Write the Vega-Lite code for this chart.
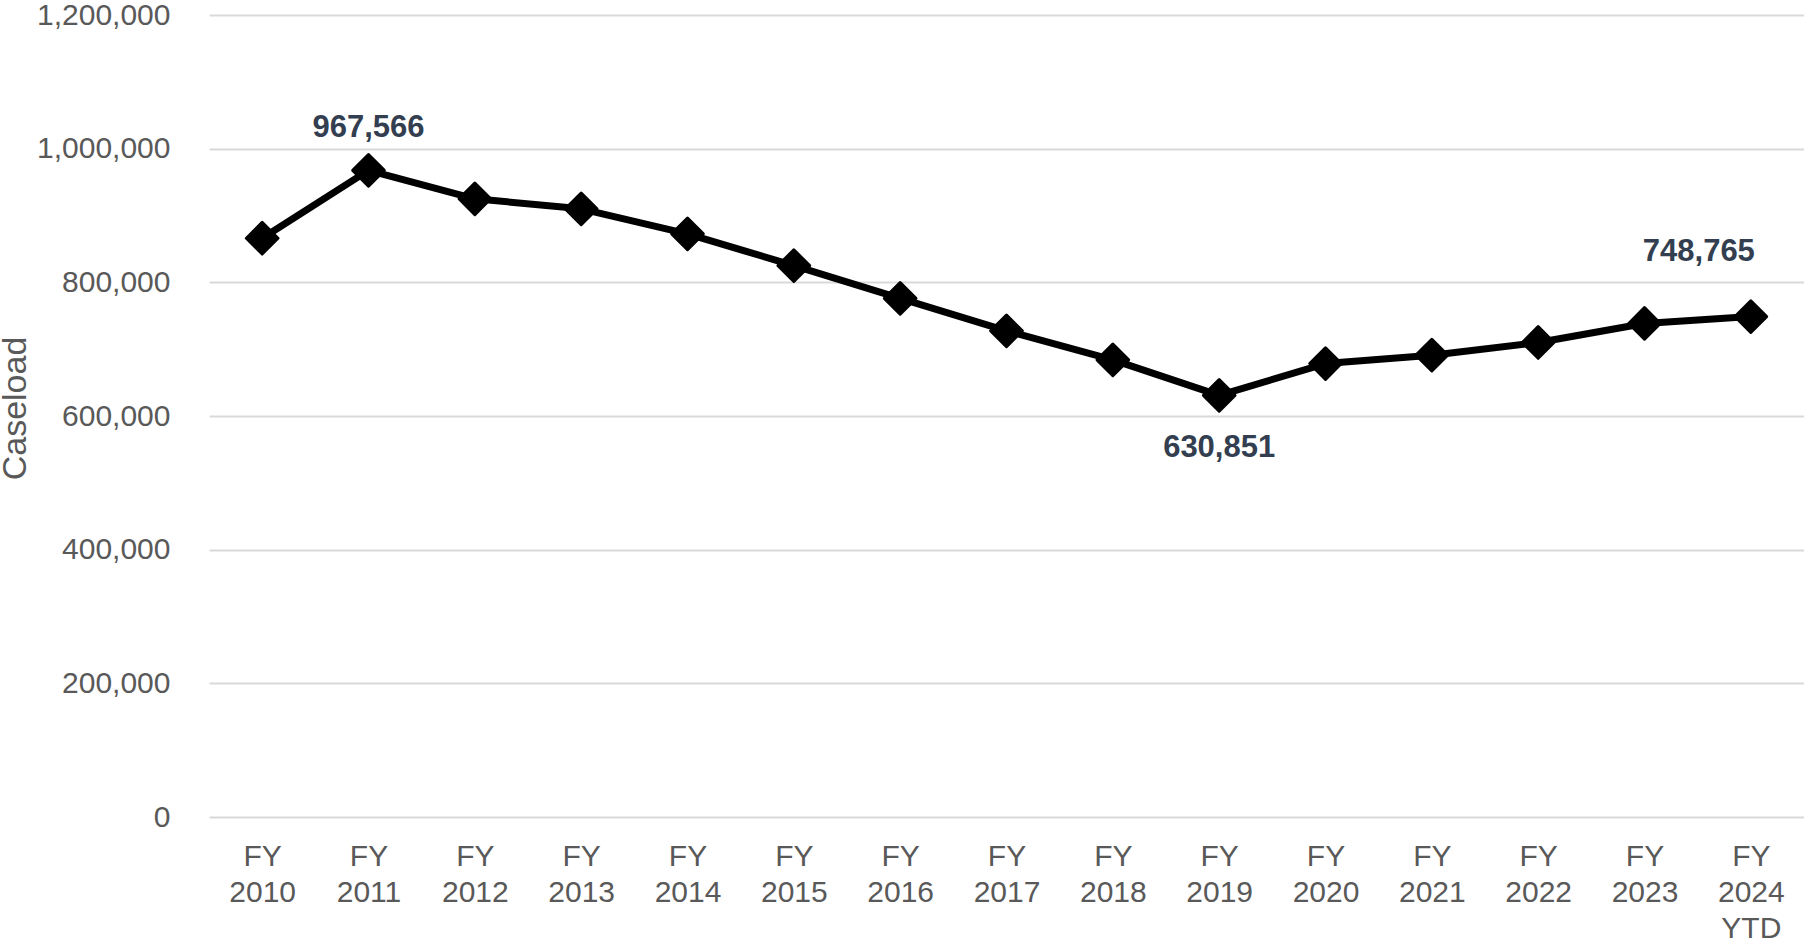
{
  "$schema": "https://vega.github.io/schema/vega-lite/v6.json",
  "autosize": {"type": "none"},
  "width": 1595,
  "height": 802,
  "padding": {"left": 209, "top": 15, "right": 0, "bottom": 128},
  "background": "white",
  "config": {"view": {"stroke": null}, "font": "Liberation Sans"},
  "data": {"values": [
    {"Year": "FY 2010", "Caseload": 866000},
    {"Year": "FY 2011", "Caseload": 967566},
    {"Year": "FY 2012", "Caseload": 925000},
    {"Year": "FY 2013", "Caseload": 910000},
    {"Year": "FY 2014", "Caseload": 872500},
    {"Year": "FY 2015", "Caseload": 825000},
    {"Year": "FY 2016", "Caseload": 776000},
    {"Year": "FY 2017", "Caseload": 727400},
    {"Year": "FY 2018", "Caseload": 684000},
    {"Year": "FY 2019", "Caseload": 630851},
    {"Year": "FY 2020", "Caseload": 678500},
    {"Year": "FY 2021", "Caseload": 691000},
    {"Year": "FY 2022", "Caseload": 710000},
    {"Year": "FY 2023", "Caseload": 738500},
    {"Year": "FY 2024 YTD", "Caseload": 748765}
  ]},
  "encoding": {
    "x": {
      "field": "Year", "type": "nominal", "sort": null,
      "scale": {"type": "point", "padding": 0.5},
      "axis": {
        "title": null, "domain": false, "ticks": false, "tickSize": 0, "grid": false,
        "labelAngle": 0, "labelFontSize": 30, "labelColor": "#595959",
        "labelFont": "Liberation Sans", "labelPadding": 24, "labelBaseline": "top",
        "labelLineHeight": 36, "labelExpr": "split(datum.label, ' ')"
      }
    },
    "y": {
      "field": "Caseload", "type": "quantitative",
      "scale": {"domain": [0, 1200000], "nice": false, "zero": true},
      "axis": {
        "values": [0, 200000, 400000, 600000, 800000, 1000000, 1200000],
        "format": ",.0f", "domain": false, "ticks": false, "tickSize": 0,
        "grid": true, "gridColor": "#d9d9d9", "gridWidth": 2,
        "labelFontSize": 30, "labelColor": "#595959", "labelFont": "Liberation Sans",
        "labelPadding": 39,
        "title": "Caseload", "titleFontSize": 34, "titleFontWeight": "normal",
        "titleColor": "#595959", "titleFont": "Liberation Sans",
        "titleX": -184, "titleY": 393, "titleAngle": 270,
        "titleAlign": "center", "titleBaseline": "alphabetic"
      }
    }
  },
  "layer": [
    {"mark": {"type": "line", "color": "black", "strokeWidth": 7, "strokeJoin": "round"}},
    {"mark": {"type": "point", "shape": "diamond", "filled": true, "size": 1000, "color": "black", "stroke": "black", "strokeWidth": 3, "strokeJoin": "round", "opacity": 1}},
    {
      "transform": [{"filter": "datum.Year == 'FY 2011'"}],
      "mark": {"type": "text", "fontSize": 31, "fontWeight": "bold", "color": "#333F50", "dy": -42, "baseline": "middle", "align": "center"},
      "encoding": {"text": {"field": "Caseload", "type": "quantitative", "format": ","}}
    },
    {
      "transform": [{"filter": "datum.Year == 'FY 2019'"}],
      "mark": {"type": "text", "fontSize": 31, "fontWeight": "bold", "color": "#333F50", "dy": 53, "baseline": "middle", "align": "center"},
      "encoding": {"text": {"field": "Caseload", "type": "quantitative", "format": ","}}
    },
    {
      "transform": [{"filter": "datum.Year == 'FY 2024 YTD'"}],
      "mark": {"type": "text", "fontSize": 31, "fontWeight": "bold", "color": "#333F50", "dy": -65, "dx": -52, "baseline": "middle", "align": "center"},
      "encoding": {"text": {"field": "Caseload", "type": "quantitative", "format": ","}}
    }
  ]
}
